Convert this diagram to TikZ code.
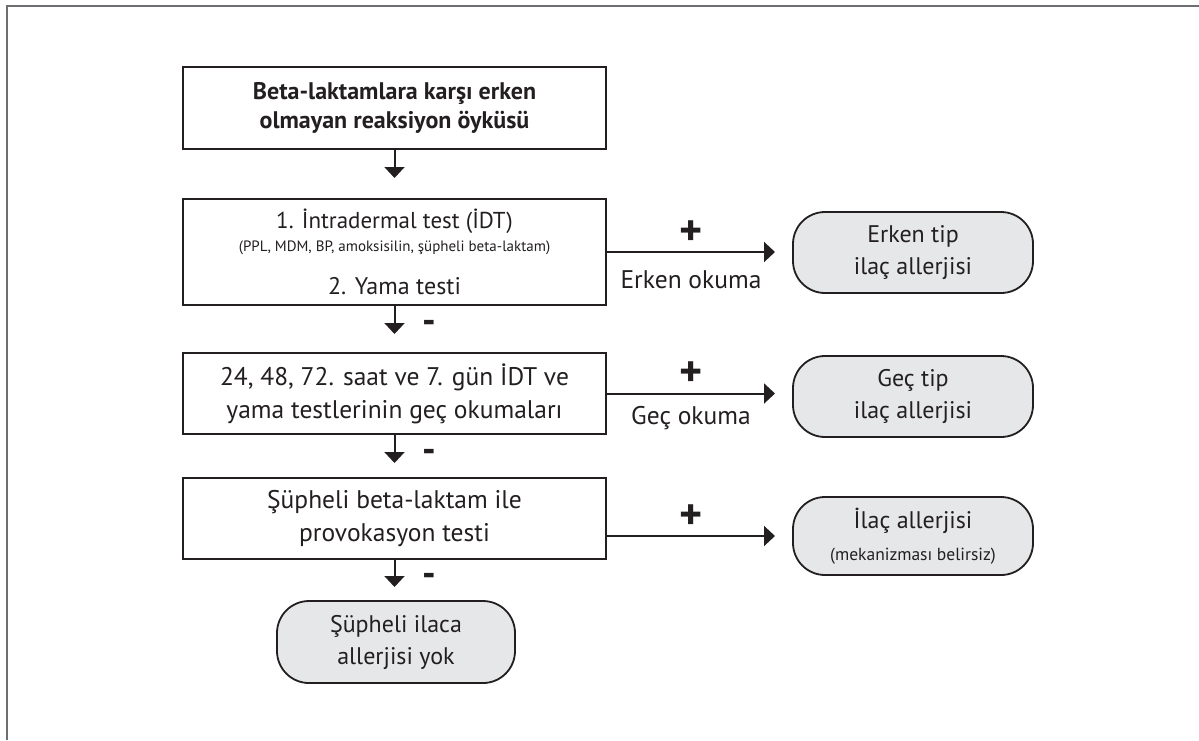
\documentclass[tikz,border=0pt]{standalone}
\usepackage{fontspec}
\setmainfont{PT Sans}
\usetikzlibrary{arrows.meta}
\definecolor{ink}{HTML}{231F20}
\definecolor{fillgray}{HTML}{E6E7E8}
\definecolor{framegray}{HTML}{6D6E71}
\newcommand{\fsz}[2]{\fontsize{#1}{#2}\selectfont}

\begin{document}
\begin{tikzpicture}[x=1pt,y=-1pt,
  every node/.style={text=ink},
  stepbox/.style={draw=ink, line width=2pt, fill=white, minimum width=423pt,
    inner sep=0pt, align=center, font=\fsz{25.5}{33}},
  endbox/.style={draw=ink, line width=1.8pt, fill=fillgray, rounded corners=32pt,
    minimum width=240pt, minimum height=81pt, inner sep=0pt, align=center,
    font=\fsz{24}{32}},
  arr/.style={draw=ink, line width=2pt, -{Triangle[length=11pt,width=20pt]}},
  plussign/.style={font=\bfseries\fsz{44}{44}, inner sep=0pt},
  minussign/.style={font=\bfseries\fsz{38}{38}, inner sep=0pt},
  reading/.style={font=\fsz{25.5}{30}, inner sep=0pt},
  frameline/.style={draw=framegray, line width=1.5pt}
]
\useasboundingbox (0,0) rectangle (1199,740);

% page frame (top and left rules)
\draw[frameline] (7,740) -- (7,6) -- (1199,6);

% main column
\node[stepbox, minimum height=82pt, font=\bfseries\fsz{24}{29}] (b1) at (394.5,108)
  {Beta-laktamlara karşı erken\\olmayan reaksiyon öyküsü};
\node[stepbox, minimum height=106pt, font=\fsz{24}{30}] (b2) at (394.5,252)
  {{\fsz{23}{22}1. İntradermal test (İDT)}\\[-7pt]%
   {\fsz{15}{18}(PPL, MDM, BP, amoksisilin, şüpheli beta-laktam)}\\[13pt]%
   2. Yama testi};
\node[stepbox, minimum height=81pt] (b3) at (394.5,393.5)
  {24, 48, 72. saat ve 7. gün İDT ve\\yama testlerinin geç okumaları};
\node[stepbox, minimum height=81pt] (b4) at (394.5,518.5)
  {Şüpheli beta-laktam ile\\provokasyon testi};

% outcomes
\node[endbox] (t1) at (913,252.5) {Erken tip\\ilaç allerjisi};
\node[endbox] (t2) at (913,396.5) {Geç tip\\ilaç allerjisi};
\node[endbox, minimum height=78pt] (t3) at (913,536)
  {İlaç allerjisi\\{\fsz{17.5}{20}(mekanizması belirsiz)}};
\node[endbox, minimum height=82pt, minimum width=238pt] (t4) at (396,642)
  {Şüpheli ilaca\\allerjisi yok};

% downward steps
\draw[arr] (b1.south) -- ++(0,28);
\draw[arr] (b2.south) -- ++(0,28) node[minussign, at end, xshift=34.5pt, yshift=7pt] {-};
\draw[arr] (b3.south) -- ++(0,28) node[minussign, at end, xshift=34.5pt, yshift=7pt] {-};
\draw[arr] (b4.south) -- ++(0,27) node[minussign, at end, xshift=34.5pt, yshift=7pt] {-};

% positive results
\coordinate (tipx) at (775,0);
\draw[arr] (b2.east) -- node[plussign, yshift=19pt] {+}
  node[reading, yshift=-28pt] {Erken okuma} (b2.east -| tipx);
\draw[arr] (b3.east) -- node[plussign, yshift=19pt] {+}
  node[reading, yshift=-25pt] {Geç okuma} (b3.east -| tipx);
\draw[arr] (b4.east |- t3.west) -- node[plussign, yshift=19pt] {+} (t3.west -| tipx);
\end{tikzpicture}
\end{document}
